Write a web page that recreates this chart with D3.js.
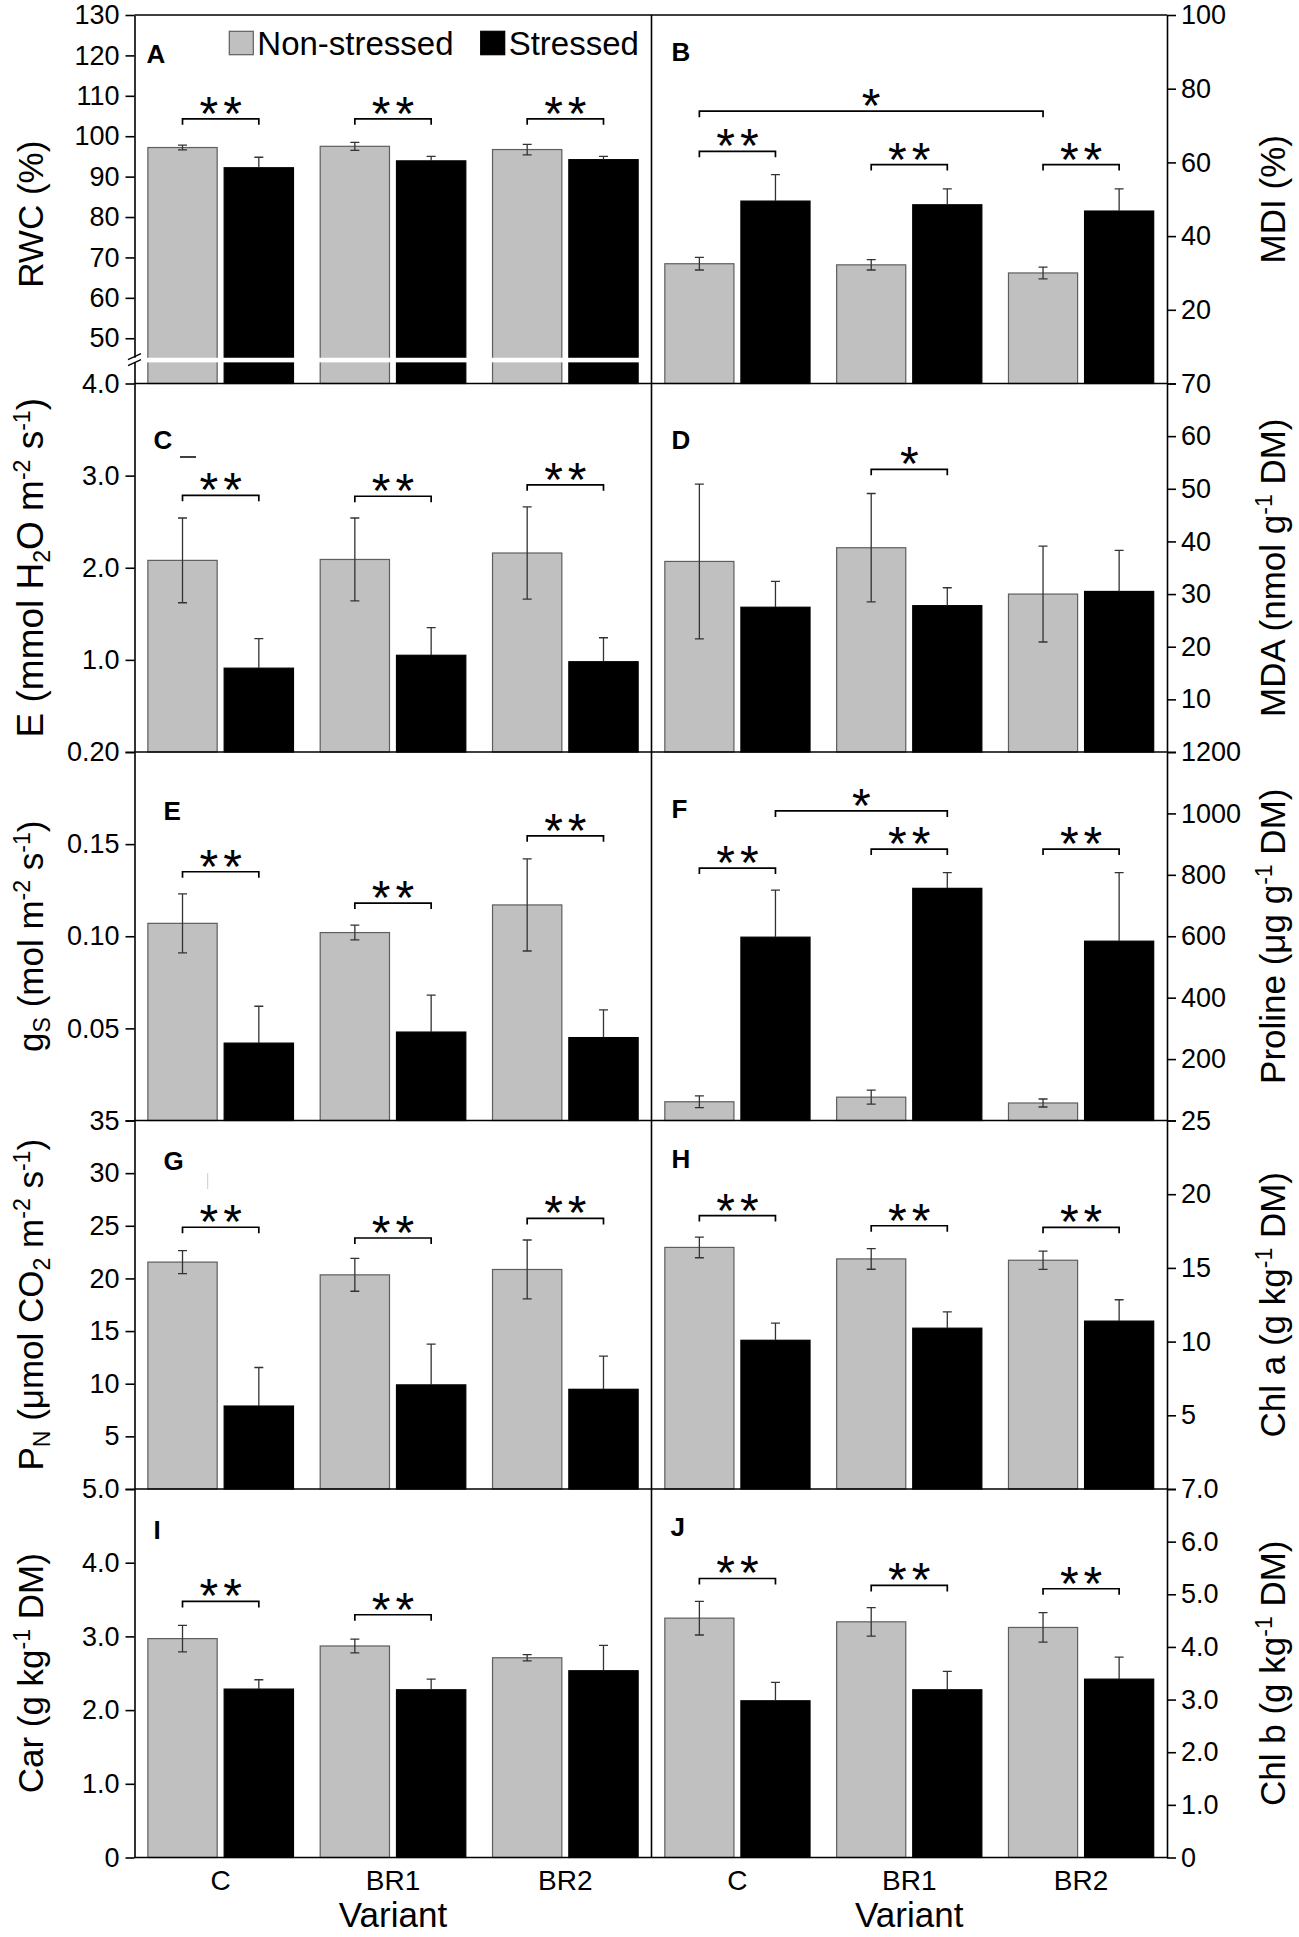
<!DOCTYPE html>
<html><head><meta charset="utf-8">
<script src="https://cdn.jsdelivr.net/npm/d3@7"></script>
<style>
body{margin:0;background:#fff;}
svg text{font-family:"Liberation Sans",Arial,Helvetica,sans-serif;fill:#000;}
</style></head><body>
<svg id="chart" width="1299" height="1937"></svg>
<script>
// ---------------- DATA ----------------
const categories = ["C", "BR1", "BR2"];
const seriesNames = ["Non-stressed", "Stressed"];

// A: RWC (%)
const rwcNS = [97.2, 97.5, 96.7];
const rwcNSErr = [0.6, 1.0, 1.3];
const rwcS = [92.2, 93.9, 94.2];
const rwcSErr = [2.6, 1.1, 0.8];
const rwcSig = [104.3, 104.3, 104.3];
const rwcTicks = [50, 60, 70, 80, 90, 100, 110, 120, 130];
const rwcTickLabels = ["50", "60", "70", "80", "90", "100", "110", "120", "130"];

// B: MDI (%)
const mdiNS = [32.5, 32.2, 30.0];
const mdiNSErr = [1.7, 1.4, 1.6];
const mdiS = [49.5, 48.5, 46.8];
const mdiSErr = [7.2, 4.3, 6.0];
const mdiSig = [63.0, 59.4, 59.4];
const mdiTicks = [0, 20, 40, 60, 80, 100];
const mdiTickLabels = ["", "20", "40", "60", "80", "100"];

// C: E (mmol H2O m-2 s-1)
const eNS = [2.08, 2.09, 2.16];
const eNSErr = [0.46, 0.45, 0.50];
const eS = [0.91, 1.05, 0.98];
const eSErr = [0.32, 0.30, 0.26];
const eSig = [2.786, 2.776, 2.90];
const eTicks = [0, 1, 2, 3, 4];
const eTickLabels = ["", "1.0", "2.0", "3.0", "4.0"];

// D: MDA (nmol g-1 DM)
const mdaNS = [36.2, 38.8, 30.0];
const mdaNSErr = [14.7, 10.3, 9.1];
const mdaS = [27.5, 27.8, 30.5];
const mdaSErr = [4.9, 3.4, 7.8];
const mdaSig = [null, 53.7, null];
const mdaTicks = [0, 10, 20, 30, 40, 50, 60, 70];
const mdaTickLabels = ["", "10", "20", "30", "40", "50", "60", "70"];

// E: gS (mol m-2 s-1)
const gsNS = [0.107, 0.102, 0.117];
const gsNSErr = [0.016, 0.004, 0.025];
const gsS = [0.042, 0.048, 0.045];
const gsSErr = [0.020, 0.020, 0.015];
const gsSig = [0.135, 0.118, 0.1545];
const gsTicks = [0, 0.05, 0.10, 0.15, 0.20];
const gsTickLabels = ["", "0.05", "0.10", "0.15", "0.20"];

// F: Proline (ug g-1 DM)
const proNS = [61, 76, 57];
const proNSErr = [19, 23, 13];
const proS = [597, 756, 584];
const proSErr = [153, 51, 223];
const proSig = [822, 884, 884];
const proTicks = [0, 200, 400, 600, 800, 1000, 1200];
const proTickLabels = ["", "200", "400", "600", "800", "1000", "1200"];

// G: PN (umol CO2 m-2 s-1)
const pnNS = [21.55, 20.34, 20.85];
const pnNSErr = [1.1, 1.56, 2.8];
const pnS = [7.88, 9.89, 9.47];
const pnSErr = [3.66, 3.87, 3.15];
const pnSig = [24.86, 23.84, 25.7];
const pnTicks = [0, 5, 10, 15, 20, 25, 30, 35];
const pnTickLabels = ["", "5", "10", "15", "20", "25", "30", "35"];

// H: Chl a (g kg-1 DM)
const chlaNS = [16.39, 15.61, 15.52];
const chlaNSErr = [0.7, 0.7, 0.62];
const chlaS = [10.09, 10.91, 11.39];
const chlaSErr = [1.16, 1.11, 1.45];
const chlaSig = [18.55, 17.86, 17.75];
const chlaTicks = [0, 5, 10, 15, 20, 25];
const chlaTickLabels = ["", "5", "10", "15", "20", "25"];

// I: Car (g kg-1 DM)
const carNS = [2.97, 2.87, 2.71];
const carNSErr = [0.18, 0.094, 0.043];
const carS = [2.285, 2.276, 2.534];
const carSErr = [0.127, 0.145, 0.344];
const carSig = [3.475, 3.294, null];
const carTicks = [0, 1, 2, 3, 4, 5];
const carTickLabels = ["0", "1.0", "2.0", "3.0", "4.0", "5.0"];

// J: Chl b (g kg-1 DM)
const chlbNS = [4.547, 4.477, 4.37];
const chlbNSErr = [0.32, 0.27, 0.28];
const chlbS = [2.977, 3.186, 3.388];
const chlbSErr = [0.35, 0.35, 0.42];
const chlbSig = [5.3, 5.168, 5.105];
const chlbTicks = [0, 1, 2, 3, 4, 5, 6, 7];
const chlbTickLabels = ["0", "1.0", "2.0", "3.0", "4.0", "5.0", "6.0", "7.0"];

// long-span significance brackets: [fromCategory, fromSeries, toCategory, toSeries, value, label]
const mdiLongSig = ["C", "Non-stressed", "BR2", "Non-stressed", 73.9, "*"];
const proLongSig = ["C", "Stressed", "BR1", "Stressed", 1008, "*"];

// ---------------- PANELS ----------------
const panels = [
  {id:"A", col:0, row:0, domain:[38.8,130], ns:rwcNS, nsErr:rwcNSErr, s:rwcS, sErr:rwcSErr, sig:rwcSig, stars:"**", ticks:rwcTicks, tickLabels:rwcTickLabels,
   title:[["RWC (%)","n"]], lx:12, ly:48, tdy:15},
  {id:"B", col:1, row:0, domain:[0,100], ns:mdiNS, nsErr:mdiNSErr, s:mdiS, sErr:mdiSErr, sig:mdiSig, stars:"**", ticks:mdiTicks, tickLabels:mdiTickLabels,
   title:[["MDI (%)","n"]], lx:20, ly:46, long:mdiLongSig},
  {id:"C", col:0, row:1, domain:[0,4], ns:eNS, nsErr:eNSErr, s:eS, sErr:eSErr, sig:eSig, stars:"**", ticks:eTicks, tickLabels:eTickLabels,
   title:[["E (mmol H","n"],["2","sub"],["O m","n"],["-2","sup"],[" s","n"],["-1","sup"],[")","n"]], lx:19, ly:65, tsize:37},
  {id:"D", col:1, row:1, domain:[0,70], ns:mdaNS, nsErr:mdaNSErr, s:mdaS, sErr:mdaSErr, sig:mdaSig, stars:"*", ticks:mdaTicks, tickLabels:mdaTickLabels,
   title:[["MDA (nmol g","n"],["-1","sup"],[" DM)","n"]], lx:20, ly:65},
  {id:"E", col:0, row:2, domain:[0,0.2], ns:gsNS, nsErr:gsNSErr, s:gsS, sErr:gsSErr, sig:gsSig, stars:"**", ticks:gsTicks, tickLabels:gsTickLabels,
   title:[["g","n"],["S","sub"],[" (mol m","n"],["-2","sup"],[" s","n"],["-1","sup"],[")","n"]], lx:29, ly:68},
  {id:"F", col:1, row:2, domain:[0,1200], ns:proNS, nsErr:proNSErr, s:proS, sErr:proSErr, sig:proSig, stars:"**", ticks:proTicks, tickLabels:proTickLabels,
   title:[["Proline (\u03bcg g","n"],["-1","sup"],[" DM)","n"]], lx:20, ly:66, long:proLongSig},
  {id:"G", col:0, row:3, domain:[0,35], ns:pnNS, nsErr:pnNSErr, s:pnS, sErr:pnSErr, sig:pnSig, stars:"**", ticks:pnTicks, tickLabels:pnTickLabels,
   title:[["P","n"],["N","sub"],[" (\u03bcmol CO","n"],["2","sub"],[" m","n"],["-2","sup"],[" s","n"],["-1","sup"],[")","n"]], lx:29, ly:49},
  {id:"H", col:1, row:3, domain:[0,25], ns:chlaNS, nsErr:chlaNSErr, s:chlaS, sErr:chlaSErr, sig:chlaSig, stars:"**", ticks:chlaTicks, tickLabels:chlaTickLabels,
   title:[["Chl a (g kg","n"],["-1","sup"],[" DM)","n"]], lx:20, ly:47},
  {id:"I", col:0, row:4, domain:[0,5], ns:carNS, nsErr:carNSErr, s:carS, sErr:carSErr, sig:carSig, stars:"**", ticks:carTicks, tickLabels:carTickLabels,
   title:[["Car (g kg","n"],["-1","sup"],[" DM)","n"]], lx:19, ly:50},
  {id:"J", col:1, row:4, domain:[0,7], ns:chlbNS, nsErr:chlbNSErr, s:chlbS, sErr:chlbSErr, sig:chlbSig, stars:"**", ticks:chlbTicks, tickLabels:chlbTickLabels,
   title:[["Chl b (g kg","n"],["-1","sup"],[" DM)","n"]], lx:19, ly:47}
];

// ---------------- LAYOUT ----------------
const X0 = 134.5, XM = 651.5, X1 = 1167;
const ROW_TOP = [15, 383.5, 752, 1120.5, 1489];
const ROW_H = 368.5;
const FONT = '"Liberation Sans",Arial,Helvetica,sans-serif';

const svg = d3.select("#chart");
const gBars = svg.append("g");
const gFrame = svg.append("g");
const gTop = svg.append("g");

function bracket(g, xa, xb, yv, label) {
  g.append("path")
    .attr("d", `M${xa},${yv + 6}V${yv}H${xb}V${yv + 6}`)
    .attr("fill", "none").attr("stroke", "#000").attr("stroke-width", 1.7);
  g.append("text")
    .attr("x", (xa + xb) / 2 + (label.length > 1 ? 2.5 : 0))
    .attr("y", yv + 11)
    .attr("text-anchor", "middle")
    .attr("font-size", 48)
    .attr("letter-spacing", label.length > 1 ? 5 : 0)
    .text(label);
}

panels.forEach(p => {
  const left = p.col === 0 ? X0 : XM;
  const right = p.col === 0 ? XM : X1;
  const top = ROW_TOP[p.row], bottom = top + ROW_H;
  const y = d3.scaleLinear().domain(p.domain).range([bottom, top]);
  const xg = d3.scaleBand().domain(categories).range([left, right]).padding(0);
  const xs = d3.scaleBand().domain(seriesNames).range([0, xg.bandwidth()])
    .paddingInner(0.0917).paddingOuter(0.175);
  const cx = (c, s) => xg(c) + xs(s) + xs.bandwidth() / 2;

  const g = gBars.append("g");
  const series = [
    {name: seriesNames[0], vals: p.ns, errs: p.nsErr, fill: "#c0c0c0", stroke: "#5e5e5e"},
    {name: seriesNames[1], vals: p.s, errs: p.sErr, fill: "#000", stroke: "#000"}
  ];
  series.forEach(se => {
    g.selectAll(null).data(categories).enter().append("rect")
      .attr("x", c => xg(c) + xs(se.name))
      .attr("y", (c, i) => y(se.vals[i]))
      .attr("width", xs.bandwidth())
      .attr("height", (c, i) => bottom - y(se.vals[i]))
      .attr("fill", se.fill).attr("stroke", se.stroke).attr("stroke-width", 1.2);
  });
  series.forEach(se => {
    categories.forEach((c, i) => {
      const x = cx(c, se.name);
      const v = se.vals[i], e = se.errs[i];
      const yt = y(v + e), yv = y(v), yb = y(v - e);
      const upCol = "#333";
      const lowCol = se.fill === "#000" ? "#000" : "#333";
      g.append("path").attr("d", `M${x},${yv}V${yt}M${x - 4.5},${yt}H${x + 4.5}`)
        .attr("stroke", upCol).attr("stroke-width", 1.3).attr("fill", "none");
      g.append("path").attr("d", `M${x},${yv}V${yb}M${x - 4.5},${yb}H${x + 4.5}`)
        .attr("stroke", lowCol).attr("stroke-width", 1.3).attr("fill", "none");
    });
  });
  // significance brackets
  categories.forEach((c, i) => {
    if (p.sig[i] == null) return;
    bracket(g, cx(c, seriesNames[0]), cx(c, seriesNames[1]), y(p.sig[i]), p.stars);
  });
  if (p.long) {
    const [c1, s1, c2, s2, v, lab] = p.long;
    bracket(g, cx(c1, s1), cx(c2, s2), y(v), lab);
  }

  // axis
  const axis = (p.col === 0 ? d3.axisLeft(y) : d3.axisRight(y))
    .tickValues(p.ticks)
    .tickFormat(d => p.tickLabels[p.ticks.indexOf(d)])
    .tickSize(9).tickSizeOuter(0).tickPadding(p.col === 0 ? 6 : 5);
  const ag = gFrame.append("g")
    .attr("transform", `translate(${p.col === 0 ? X0 : X1},0)`)
    .call(axis)
    .attr("font-family", FONT).attr("font-size", 27);
  ag.select(".domain").attr("stroke", "#000").attr("stroke-width", 1.6);
  ag.selectAll(".tick line").attr("stroke", "#000").attr("stroke-width", 1.6);
  ag.selectAll(".tick text").attr("fill", "#000");

  // panel letter
  gTop.append("text").attr("x", left + p.lx).attr("y", top + p.ly)
    .attr("font-size", 26).attr("font-weight", "bold").text(p.id);

  // axis title
  const tx = p.col === 0 ? 43 : 1285;
  const t = gTop.append("text")
    .attr("transform", `translate(${tx},${top + ROW_H / 2 + (p.tdy || 0)}) rotate(-90)`)
    .attr("text-anchor", "middle").attr("font-size", p.tsize || 35);
  let shift = 0;
  p.title.forEach(([txt, kind]) => {
    const target = kind === "sup" ? -13 : kind === "sub" ? 7 : 0;
    const sp = t.append("tspan").attr("dy", target - shift).text(txt);
    if (kind !== "n") sp.attr("font-size", 23);
    shift = target;
  });

  // x labels at bottom row
  if (p.row === 4) {
    gTop.selectAll(null).data(categories).enter().append("text")
      .attr("x", c => xg(c) + xg.bandwidth() / 2)
      .attr("y", 1890).attr("text-anchor", "middle").attr("font-size", 28)
      .text(c => c);
    gTop.append("text").attr("x", (left + right) / 2).attr("y", 1927)
      .attr("text-anchor", "middle").attr("font-size", 35).text("Variant");
  }
});

// frame lines
const hLines = [ROW_TOP[0], ROW_TOP[1], ROW_TOP[2], ROW_TOP[3], ROW_TOP[4], ROW_TOP[4] + ROW_H];
gFrame.selectAll(null).data(hLines).enter().append("line")
  .attr("x1", X0).attr("x2", X1).attr("y1", d => d).attr("y2", d => d)
  .attr("stroke", "#000").attr("stroke-width", 1.6);
gFrame.append("line").attr("x1", XM).attr("x2", XM).attr("y1", ROW_TOP[0]).attr("y2", ROW_TOP[4] + ROW_H)
  .attr("stroke", "#000").attr("stroke-width", 1.6);

// axis break in panel A
const yA = d3.scaleLinear().domain(panels[0].domain).range([ROW_TOP[0] + ROW_H, ROW_TOP[0]]);
const brk = yA(44.6);
gFrame.append("rect").attr("x", 131).attr("y", brk - 2.3).attr("width", 650 - 131).attr("height", 4.6).attr("fill", "#fff");
gFrame.append("path").attr("d", `M128,${brk - 0.5}L141,${brk - 6.5}M128,${brk + 5.5}L141,${brk - 0.5}`)
  .attr("stroke", "#000").attr("stroke-width", 1.3).attr("fill", "none");

// stray marks in the original
gTop.append("line").attr("x1", 180).attr("x2", 196).attr("y1", 457).attr("y2", 457).attr("stroke", "#000").attr("stroke-width", 1.5);
gTop.append("line").attr("x1", 207.7).attr("x2", 207.7).attr("y1", 1173).attr("y2", 1189).attr("stroke", "#ccc").attr("stroke-width", 1);

// legend
const legend = gTop.append("g");
const legItems = [
  {name: seriesNames[0], x: 229.3, fill: "#c0c0c0", stroke: "#5e5e5e"},
  {name: seriesNames[1], x: 480.7, fill: "#000", stroke: "#000"}
];
legItems.forEach(it => {
  legend.append("rect").attr("x", it.x).attr("y", 31.3).attr("width", 24).attr("height", 23.4)
    .attr("fill", it.fill).attr("stroke", it.stroke).attr("stroke-width", 1.2);
  legend.append("text").attr("x", it.x + 28).attr("y", 54.7).attr("font-size", 33).text(it.name);
});
</script>
</body></html>
